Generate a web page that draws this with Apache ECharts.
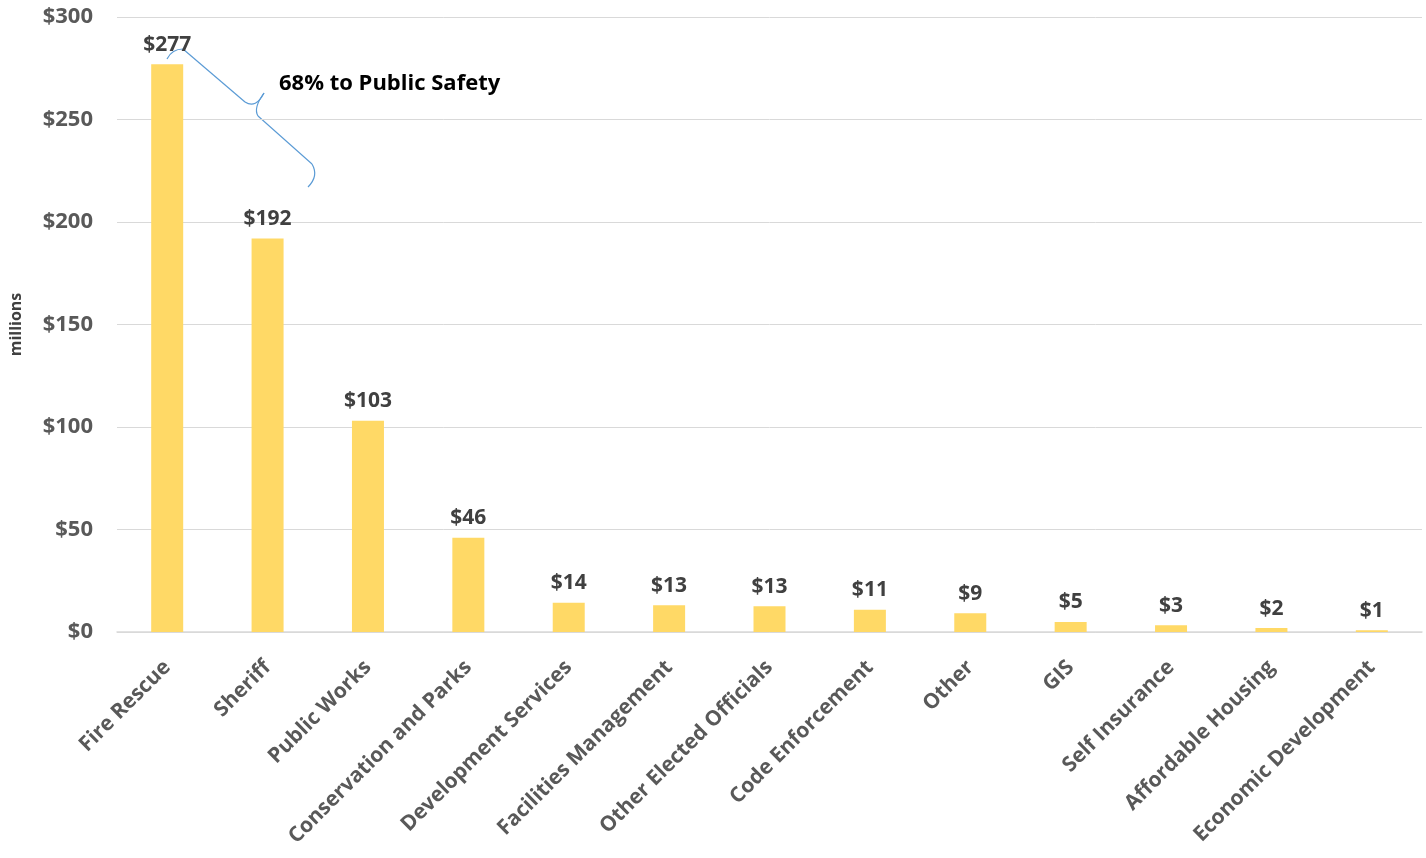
<!DOCTYPE html>
<html>
<head>
<meta charset="utf-8">
<script src="https://cdn.jsdelivr.net/npm/echarts@6/dist/echarts.min.js"></script>
<style>
    html, body { margin: 0; padding: 0; background: #fff; }
    #chart { width: 1426px; height: 858px; }
</style>
</head>
<body>
<div id="chart"></div>
<script>
var categories = ["Fire Rescue", "Sheriff", "Public Works", "Conservation and Parks", "Development Services",
    "Facilities Management", "Other Elected Officials", "Code Enforcement", "Other", "GIS",
    "Self Insurance", "Affordable Housing", "Economic Development"];
var spending = [277, 192, 103, 46, 14.3, 13.1, 12.6, 10.8, 9.2, 4.9, 3.3, 1.9, 0.8]; // millions
var yTicks = [0, 50, 100, 150, 200, 250, 300];

var font = "'Open Sans', 'Liberation Sans', sans-serif";
var braceStyle = { fill: null, stroke: "#5B9BD5", lineWidth: 1.2 };

// curly brace annotation pieces
function curve(x1, y1, cx, cy, x2, y2) {
    return { type: "bezierCurve", shape: { x1: x1, y1: y1, cpx1: cx, cpy1: cy, x2: x2, y2: y2 }, style: braceStyle };
}
function seg(x1, y1, x2, y2) {
    return { type: "line", shape: { x1: x1, y1: y1, x2: x2, y2: y2 }, style: braceStyle };
}

var chart = echarts.init(document.getElementById("chart"));
var option = {
    animation: false,
    grid: { left: 117, right: 4, top: 17, bottom: 226, containLabel: false, outerBoundsMode: "none" },
    xAxis: {
        type: "category",
        data: categories,
        axisLine: { lineStyle: { color: "#D9D9D9", width: 1.5 } },
        axisTick: { show: false },
        axisLabel: {
            interval: 0,
            rotate: 45,
            margin: 32,
            color: "#595959",
            fontFamily: font,
            fontWeight: "bold",
            fontSize: 21
        }
    },
    yAxis: {
        type: "value",
        min: yTicks[0],
        max: yTicks[yTicks.length - 1],
        interval: 50,
        name: "millions",
        nameLocation: "middle",
        nameGap: 93,
        nameRotate: 90,
        nameTextStyle: { color: "#404040", fontFamily: font, fontWeight: "bold", fontSize: 16 },
        axisLine: { show: false },
        axisTick: { show: false },
        splitLine: { lineStyle: { color: "#D9D9D9" } },
        axisLabel: {
            margin: 24,
            color: "#595959",
            fontFamily: font,
            fontWeight: "bold",
            fontSize: 22,
            formatter: function (v) { return "$" + v; }
        }
    },
    series: [{
        type: "bar",
        data: spending,
        barWidth: 32,
        itemStyle: { color: "#FFD966" },
        label: {
            show: true,
            position: "top",
            distance: 9,
            color: "#404040",
            fontFamily: font,
            fontWeight: "bold",
            fontSize: 21,
            formatter: function (p) { return "$" + Math.round(p.value); }
        }
    }],
    graphic: [
        curve(167, 59, 172, 49, 183, 49),
        seg(183, 49, 245, 102),
        curve(245, 102, 256, 109, 264, 93),
        curve(264, 93, 253, 108, 258, 116),
        seg(258, 116, 312, 164),
        curve(312, 164, 319, 176, 308, 187),
        {
            type: "text",
            left: 279,
            top: 73,
            style: {
                text: "68% to Public Safety",
                fill: "#000000",
                font: "bold 22px " + font
            }
        }
    ]
};
chart.setOption(option);
</script>
</body>
</html>
